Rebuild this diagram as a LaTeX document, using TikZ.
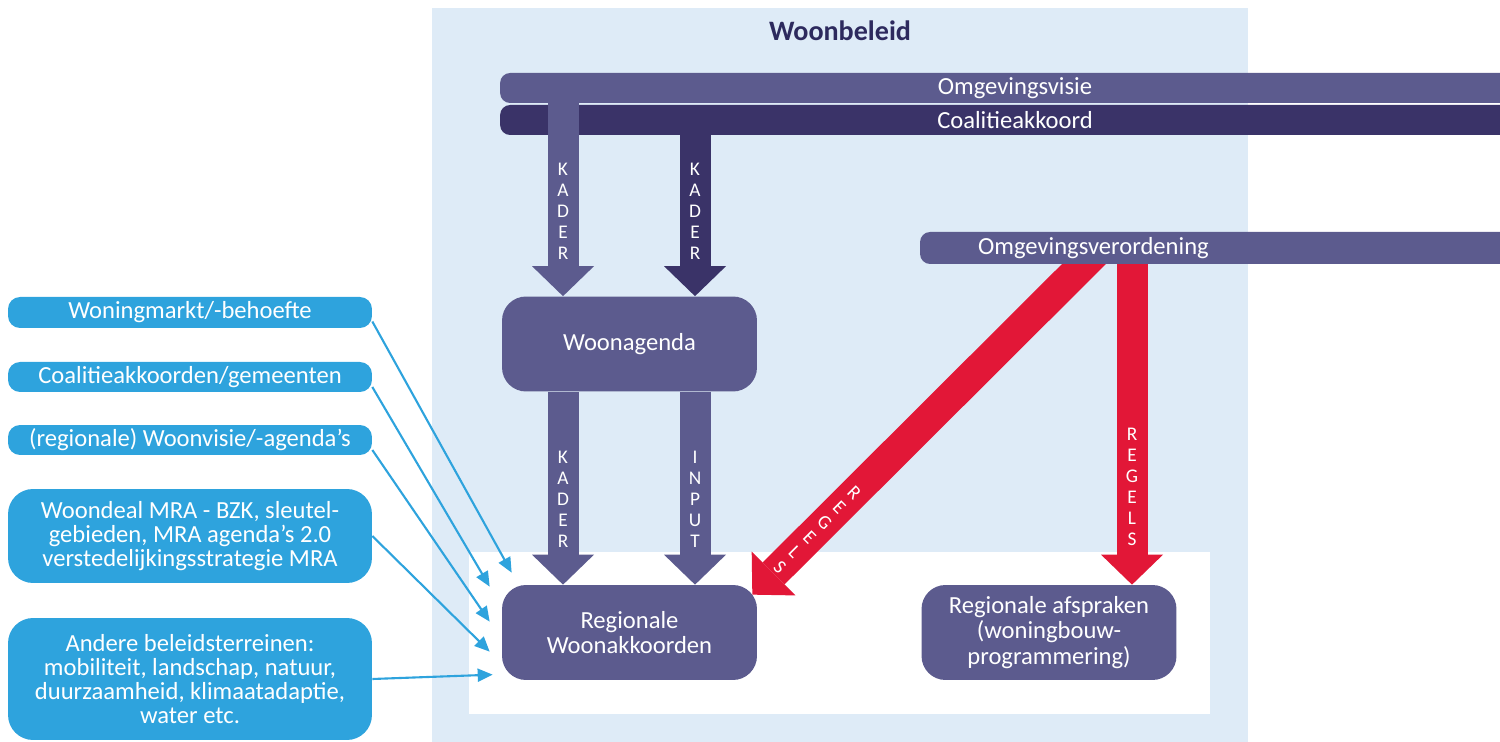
\documentclass[tikz,border=0pt]{standalone}
\usepackage{fontspec}
\setmainfont{Carlito}
\usepackage{tikz}
\usetikzlibrary{arrows.meta, calc, positioning}
\definecolor{lichtblauw}{RGB}{222,235,247}
\definecolor{lila}{RGB}{92,91,142}
\definecolor{donker}{RGB}{58,51,104}
\definecolor{rood}{RGB}{226,23,55}
\definecolor{cyaan}{RGB}{46,163,221}
\definecolor{titelblauw}{RGB}{45,42,94}

\begin{document}
\begin{tikzpicture}[x=0.02cm,y=-0.02cm,font=\fontsize{14}{14.5}\selectfont]
  \tikzstyle{balk}=[fill=lila, text=white, minimum height=0.6cm, rounded corners=0.2cm, inner sep=0pt]
  \tikzstyle{blok}=[fill=lila, text=white, minimum width=5.1cm, minimum height=1.9cm, rounded corners=0.48cm, align=center]
  \tikzstyle{bron}=[fill=cyaan, text=white, minimum width=7.28cm, inner sep=0pt, align=center, font=\fontsize{14}{13.5}\selectfont]
  \tikzstyle{pijl}=[line width=0.62cm, -{Triangle[length=0.6cm, width=1.24cm, line width=0pt]}]
  \tikzstyle{dun}=[cyaan, line width=1.2pt, -{Triangle[length=0.3cm, width=0.26cm]}]
  \tikzstyle{letters}=[text=white, align=center, inner sep=0pt, font=\fontsize{11}{12}\selectfont]

  \useasboundingbox (0,0) rectangle (1500,742);
  \clip (0,0) rectangle (1500,742);
  \fill[lichtblauw] (432,8) rectangle (1248,750);
  \fill[white] (469,552) rectangle (1210,714);
  \node[text=titelblauw, font=\fontsize{16}{16}\selectfont\bfseries] (titel) at (840,31) {Woonbeleid};

  % blokken
  \node[blok] (agenda)    at (629.5,344)   {Woonagenda};
  \node[blok] (akkoord)   at (629.5,632.5) {Regionale\\Woonakkoorden};
  \node[blok] (afspraken) at (1049,632.5)  {Regionale afspraken\\(woningbouw-\\programmering)};

  % bronnen links
  \node[bron, minimum height=0.62cm, rounded corners=0.24cm] (b1) at (190,312.5) {Woningmarkt/-behoefte};
  \node[bron, minimum height=0.6cm, rounded corners=0.24cm]  (b2) at (190,377)   {Coalitieakkoorden/gemeenten};
  \node[bron, minimum height=0.6cm, rounded corners=0.24cm]  (b3) at (190,440)   {(regionale) Woonvisie/-agenda's};
  \node[bron, minimum height=1.88cm, rounded corners=0.5cm]  (b4) at (190,536)   {Woondeal MRA - BZK, sleutel-\\gebieden, MRA agenda's 2.0\\verstedelijkingsstrategie MRA};
  \node[bron, minimum height=2.44cm, rounded corners=0.5cm]  (b5) at (190,679)   {Andere beleidsterreinen:\\mobiliteit, landschap, natuur,\\duurzaamheid, klimaatadaptie,\\water etc.};

  % schuine pijl onder de balk
  \coordinate (vstart) at (1099,249);
  \draw[pijl, rood] (vstart) -- ($(akkoord.north east)+(-5,10)$);
  \node[letters, rotate=-45] (regels2) at (817,530) {R\\E\\G\\E\\L\\S};

  % balken
  \node[balk, fill=donker, minimum width=20.6cm] (coalitie) at (1015,120) {Coalitieakkoord};
  \node[balk, minimum width=20.6cm] (visie) at (1015,88) {Omgevingsvisie};
  \node[balk, minimum width=12.2cm, minimum height=0.64cm, text width=9.88cm, inner xsep=1.16cm, align=left] (verordening) at (1225,248) {Omgevingsverordening};

  \coordinate (kx) at (563,0);
  \coordinate (ix) at (695,0);
  \coordinate (rx) at (1132,0);

  % dikke pijlen
  \draw[pijl, donker] (coalitie.south -| ix) -- (agenda.north -| ix);
  \draw[pijl, lila] (visie.south -| kx) -- (agenda.north -| kx);
  \draw[pijl, lila] (agenda.south -| kx) -- (akkoord.north -| kx);
  \draw[pijl, lila] (agenda.south -| ix) -- (akkoord.north -| ix);
  \draw[pijl, rood] (verordening.south -| rx) -- (afspraken.north -| rx);

  \node[letters] (kader1) at (563,211) {K\\A\\D\\E\\R};
  \node[letters] (kader2) at (695,211) {K\\A\\D\\E\\R};
  \node[letters] (kader3) at (563,499) {K\\A\\D\\E\\R};
  \node[letters] (input)  at (695,499) {I\\N\\P\\U\\T};
  \node[letters] (regels) at (1132,487) {R\\E\\G\\E\\L\\S};

  % dunne pijlen
  \draw[dun] ($(b1.east)+(0,9)$)  -- ($(akkoord.north west)+(10,-12)$);
  \draw[dun] ($(b2.east)+(0,10)$) -- ($(akkoord.north west)+(-12,2)$);
  \draw[dun] ($(b3.east)+(0,10)$) -- ($(akkoord.north west)+(-12,37)$);
  \draw[dun] (b4.east) -- ($(akkoord.north west)+(-12,67)$);
  \draw[dun] (b5.east) -- ($(akkoord.north west)+(-9,90)$);
\end{tikzpicture}
\end{document}
